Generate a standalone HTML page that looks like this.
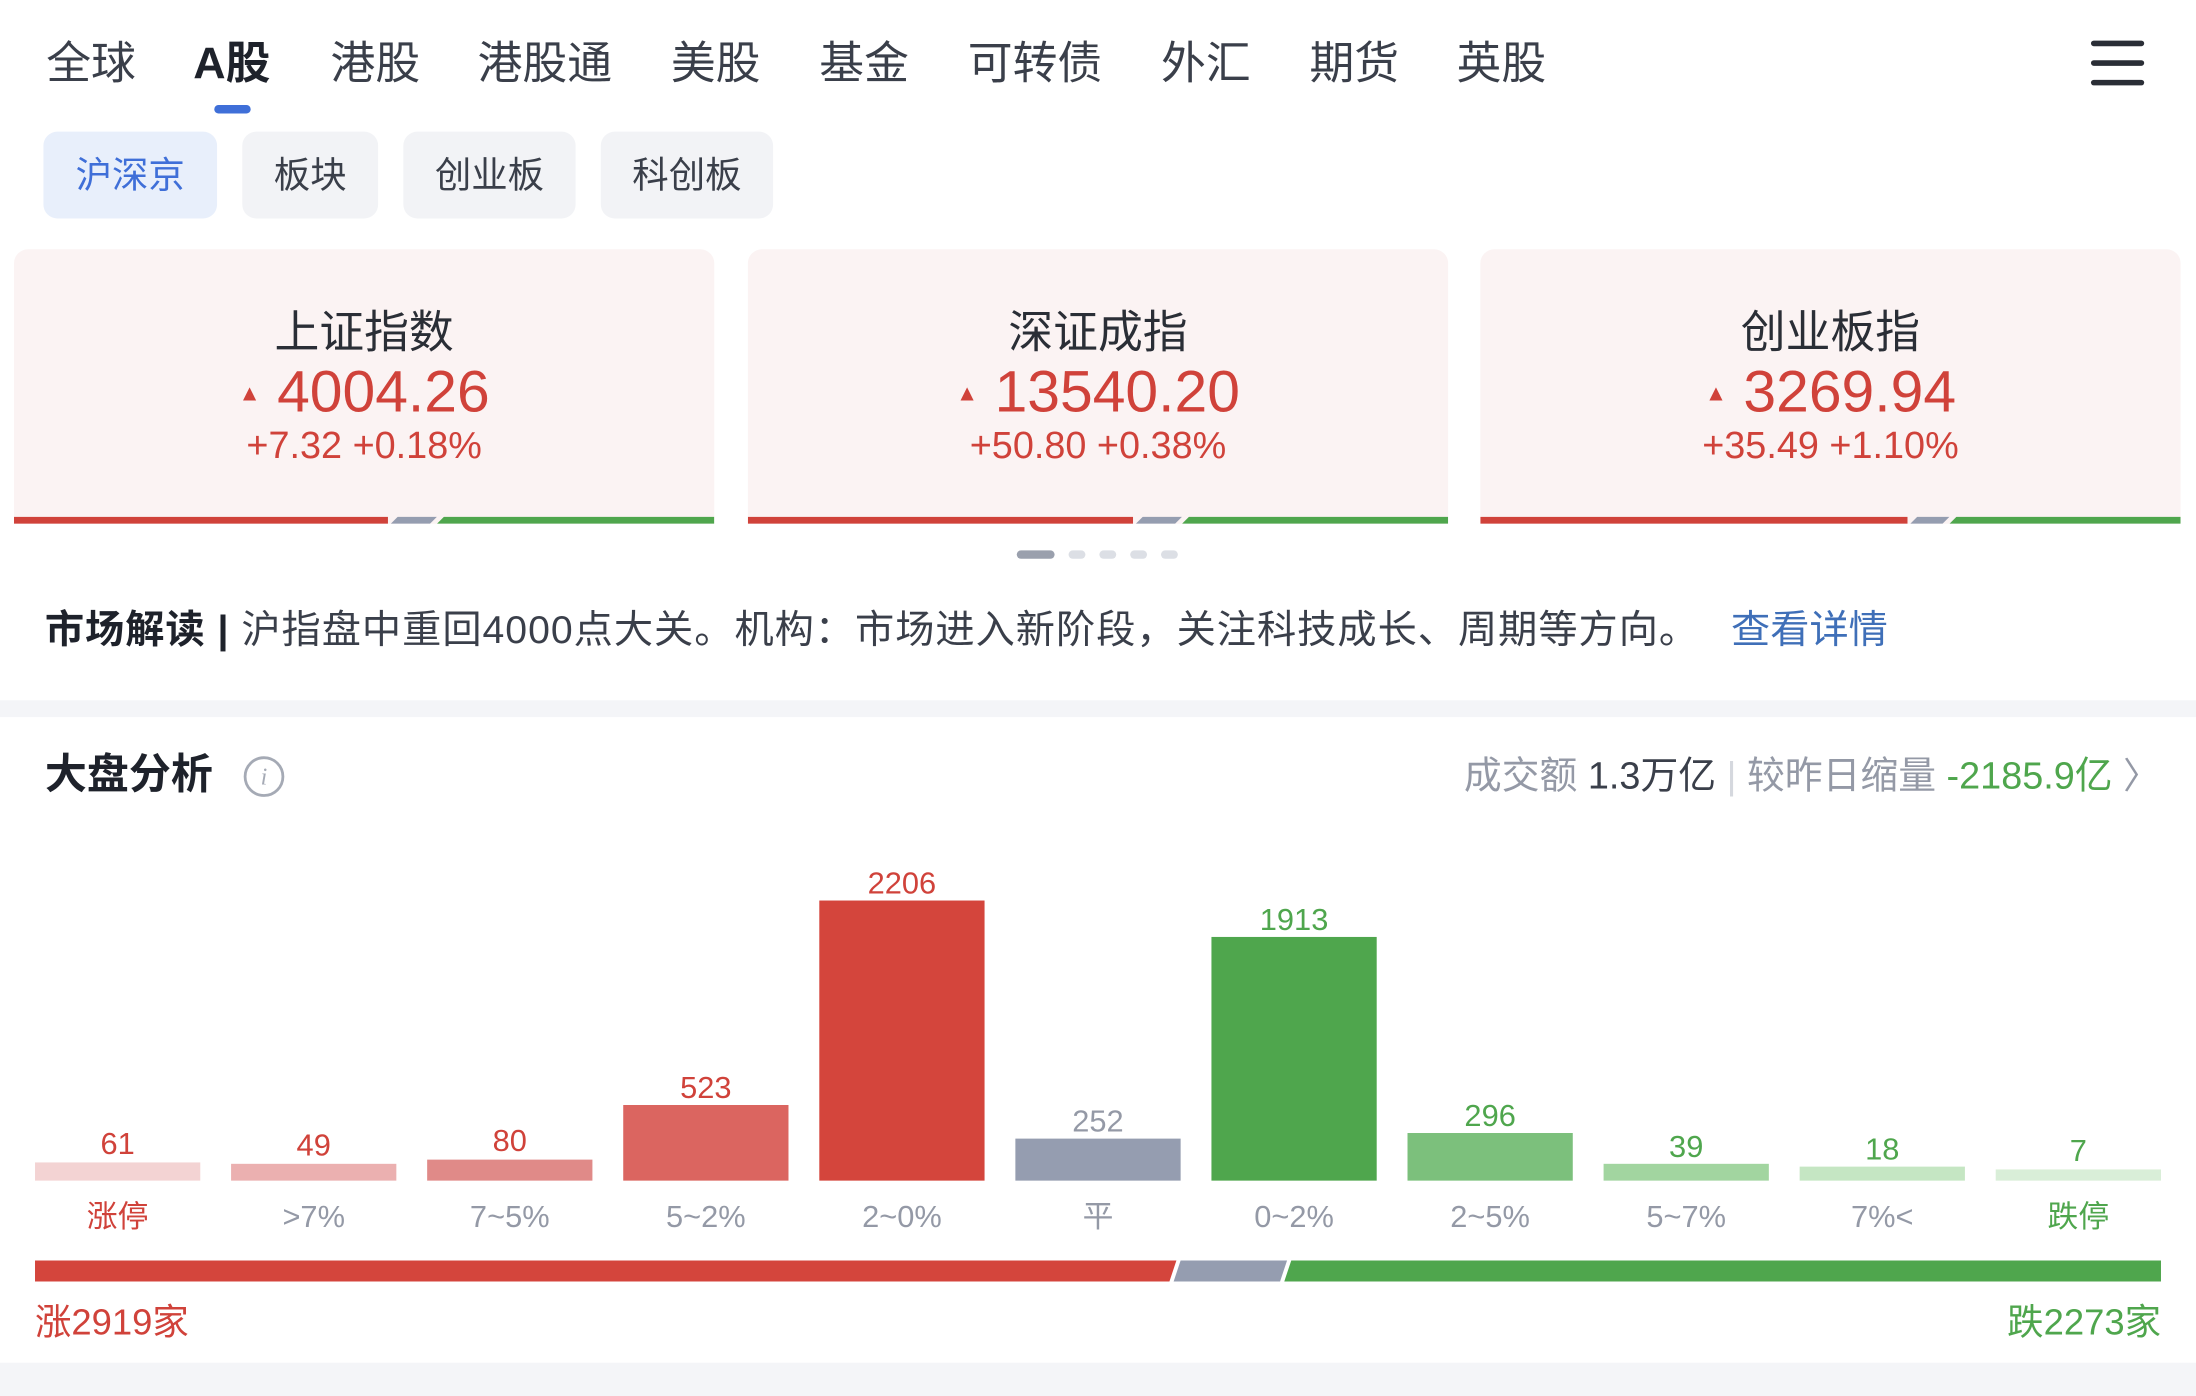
<!DOCTYPE html>
<html><head><meta charset="utf-8"><style>
html,body{margin:0;padding:0;background:#fff;width:2196px;height:1396px;overflow:hidden}
#w{position:absolute;left:0;top:0;width:1568px;height:997px;transform:scale(1.40051);transform-origin:0 0;font-family:"Liberation Sans","Noto Sans CJK SC",sans-serif}
#w div,#w span.a{position:absolute;white-space:nowrap}
.t{font-size:32px;line-height:32px;color:#3a3f4a;top:29px}
.st{top:94px;height:62px;border-radius:10px;background:#f2f3f6;font-size:26px;line-height:62px;text-align:center;color:#3a3f4a}
.card{top:178px;height:196px;width:500px;background:#fbf3f3;border-radius:10px 10px 0 0}
.ct{left:0;right:0;text-align:center;top:220px;font-size:32px;line-height:34px;color:#2a2e36}
.cv{left:0;right:0;text-align:center;top:257px;font-size:42px;line-height:46px;color:#d0423a}
.cc{left:0;right:0;text-align:center;top:303px;font-size:27px;line-height:30px;color:#d0423a}
.bar{width:118px}
.v{width:118px;text-align:center;font-size:22px;line-height:22px}
.l{width:118px;text-align:center;font-size:22px;line-height:22px;top:858px;color:#9499a6}
</style></head><body><div id="w">
<div class="t" style="left:33px">全球</div>
<div class="t" style="left:138px;font-weight:bold;color:#1e222b">A股</div>
<div style="left:153px;top:75px;width:26px;height:6px;border-radius:3px;background:#3f6fd8"></div>
<div class="t" style="left:236px">港股</div>
<div class="t" style="left:341px">港股通</div>
<div class="t" style="left:479px">美股</div>
<div class="t" style="left:585px">基金</div>
<div class="t" style="left:691px">可转债</div>
<div class="t" style="left:829px">外汇</div>
<div class="t" style="left:935px">期货</div>
<div class="t" style="left:1040px">英股</div>
<div style="left:1493px;top:29px;width:38px;height:4px;background:#2a2e36;border-radius:2px"></div>
<div style="left:1493px;top:43px;width:38px;height:4px;background:#2a2e36;border-radius:2px"></div>
<div style="left:1493px;top:57px;width:38px;height:4px;background:#2a2e36;border-radius:2px"></div>

<div class="st" style="left:31px;width:124px;background:#e8effb;color:#3f6fd8">沪深京</div>
<div class="st" style="left:173px;width:97px">板块</div>
<div class="st" style="left:288px;width:123px">创业板</div>
<div class="st" style="left:429px;width:123px">科创板</div>

<div class="card" style="left:10px"><div class="ct" style="top:42px">上证指数</div><div class="cv" style="top:79px"><span style="font-size:16px;vertical-align:8px">▲</span> 4004.26</div><div class="cc" style="top:125px">+7.32 +0.18%</div>
<svg style="position:absolute;left:0;top:191px" width="500" height="5"><rect width="267" height="5" fill="#d0423a"/><polygon points="269,5 274,0 302,0 297,5" fill="#959db0"/><polygon points="302,5 307,0 500,0 500,5" fill="#4fa64d"/></svg></div>
<div class="card" style="left:534px"><div class="ct" style="top:42px">深证成指</div><div class="cv" style="top:79px"><span style="font-size:16px;vertical-align:8px">▲</span> 13540.20</div><div class="cc" style="top:125px">+50.80 +0.38%</div>
<svg style="position:absolute;left:0;top:191px" width="500" height="5"><rect width="275" height="5" fill="#d0423a"/><polygon points="277,5 282,0 310,0 305,5" fill="#959db0"/><polygon points="310,5 315,0 500,0 500,5" fill="#4fa64d"/></svg></div>
<div class="card" style="left:1057px"><div class="ct" style="top:42px">创业板指</div><div class="cv" style="top:79px"><span style="font-size:16px;vertical-align:8px">▲</span> 3269.94</div><div class="cc" style="top:125px">+35.49 +1.10%</div>
<svg style="position:absolute;left:0;top:191px" width="500" height="5"><rect width="305" height="5" fill="#d0423a"/><polygon points="307,5 312,0 335,0 330,5" fill="#959db0"/><polygon points="335,5 340,0 500,0 500,5" fill="#4fa64d"/></svg></div>

<div style="left:726px;top:393px;width:27px;height:6px;border-radius:3px;background:#9aa0ad"></div>
<div style="left:763px;top:393px;width:12px;height:6px;border-radius:3px;background:#dcdfe5"></div>
<div style="left:785px;top:393px;width:12px;height:6px;border-radius:3px;background:#dcdfe5"></div>
<div style="left:807px;top:393px;width:12px;height:6px;border-radius:3px;background:#dcdfe5"></div>
<div style="left:829px;top:393px;width:12px;height:6px;border-radius:3px;background:#dcdfe5"></div>

<div style="left:32px;top:435px;font-size:28px;line-height:30px;color:#3a3f4a;letter-spacing:0.7px"><b style="color:#1e222b">市场解读</b> <b style="color:#1e222b">|</b> 沪指盘中重回4000点大关。机构：市场进入新阶段，关注科技成长、周期等方向。</div>
<div style="left:1236px;top:435px;font-size:28px;line-height:30px;color:#3f6fb8">查看详情</div>

<div style="left:0;top:500px;width:1568px;height:12px;background:#f4f5f8"></div>

<div style="left:32px;top:538px;font-size:30px;line-height:32px;font-weight:bold;color:#1e222b">大盘分析</div>
<div style="left:174px;top:540px;width:25px;height:25px;border:2px solid #a5aab5;border-radius:50%;color:#a5aab5;font-size:17px;line-height:25px;text-align:center;font-style:italic;font-family:'Liberation Serif',serif">i</div>
<div style="right:26px;top:539px;font-size:27px;line-height:30px;color:#9499a6">成交额 <span style="color:#3a3f4a">1.3万亿</span> <span style="color:#d5d8de">|</span> 较昨日缩量 <span style="color:#4fa64d">-2185.9亿</span> <span style="font-size:26px">〉</span></div>

<div class="bar" style="left:25px;top:830px;height:13px;background:#f3d3d3"></div>
<div class="bar" style="left:165px;top:831px;height:12px;background:#ebb0b0"></div>
<div class="bar" style="left:305px;top:828px;height:15px;background:#e08a88"></div>
<div class="bar" style="left:445px;top:789px;height:54px;background:#db6560"></div>
<div class="bar" style="left:585px;top:643px;height:200px;background:#d4453c"></div>
<div class="bar" style="left:725px;top:813px;height:30px;background:#959db0"></div>
<div class="bar" style="left:865px;top:669px;height:174px;background:#4fa64d"></div>
<div class="bar" style="left:1005px;top:809px;height:34px;background:#7cc07c"></div>
<div class="bar" style="left:1145px;top:831px;height:12px;background:#a2d5a0"></div>
<div class="bar" style="left:1285px;top:833px;height:10px;background:#c5e6c3"></div>
<div class="bar" style="left:1425px;top:835px;height:8px;background:#d9eed8"></div>

<div class="v" style="left:25px;top:806px;color:#d0423a">61</div>
<div class="v" style="left:165px;top:807px;color:#d0423a">49</div>
<div class="v" style="left:305px;top:804px;color:#d0423a">80</div>
<div class="v" style="left:445px;top:766px;color:#d0423a">523</div>
<div class="v" style="left:585px;top:620px;color:#d0423a">2206</div>
<div class="v" style="left:725px;top:790px;color:#9499a6">252</div>
<div class="v" style="left:865px;top:646px;color:#4fa64d">1913</div>
<div class="v" style="left:1005px;top:786px;color:#4fa64d">296</div>
<div class="v" style="left:1145px;top:808px;color:#4fa64d">39</div>
<div class="v" style="left:1285px;top:810px;color:#4fa64d">18</div>
<div class="v" style="left:1425px;top:811px;color:#4fa64d">7</div>

<div class="l" style="left:25px;color:#d0423a">涨停</div>
<div class="l" style="left:165px">&gt;7%</div>
<div class="l" style="left:305px">7~5%</div>
<div class="l" style="left:445px">5~2%</div>
<div class="l" style="left:585px">2~0%</div>
<div class="l" style="left:725px">平</div>
<div class="l" style="left:865px">0~2%</div>
<div class="l" style="left:1005px">2~5%</div>
<div class="l" style="left:1145px">5~7%</div>
<div class="l" style="left:1285px">7%&lt;</div>
<div class="l" style="left:1425px;color:#4fa64d">跌停</div>

<svg style="position:absolute;left:25px;top:900px" width="1518" height="15"><polygon points="0,0 815,0 810,15 0,15" fill="#d4453c"/><polygon points="813,15 818,0 894,0 889,15" fill="#959db0"/><polygon points="892,15 897,0 1518,0 1518,15" fill="#4fa64d"/></svg>

<div style="left:25px;top:930px;font-size:26px;line-height:28px;color:#d0423a">涨2919家</div>
<div style="right:25px;top:930px;font-size:26px;line-height:28px;color:#4fa64d">跌2273家</div>

<div style="left:0;top:973px;width:1568px;height:24px;background:#f4f5f8"></div>
</div></body></html>
